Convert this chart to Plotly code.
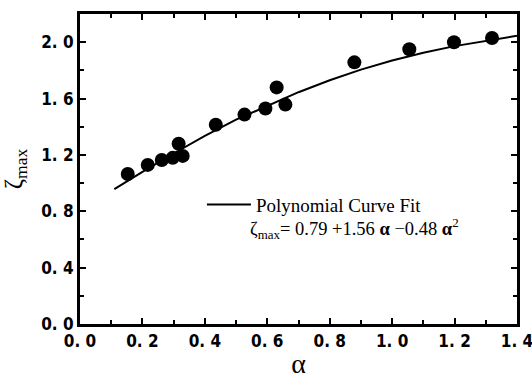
import plotly.graph_objects as go

# measured data points
alpha_pts = [0.153, 0.217, 0.262, 0.297, 0.316, 0.329, 0.435, 0.527, 0.594, 0.630, 0.658, 0.879, 1.055, 1.198, 1.320]
zeta_pts = [1.064, 1.129, 1.164, 1.179, 1.279, 1.193, 1.414, 1.486, 1.529, 1.679, 1.557, 1.857, 1.950, 2.000, 2.030]

# fit curve
alpha_fit = [0.11, 0.2, 0.3, 0.4, 0.5, 0.6, 0.7, 0.8, 0.9, 1.0, 1.1, 1.2, 1.3, 1.4]
zeta_fit = [0.957, 1.08, 1.21, 1.335, 1.45, 1.55, 1.645, 1.73, 1.805, 1.87, 1.925, 1.972, 2.01, 2.045]

x_ticks = [0.0, 0.2, 0.4, 0.6, 0.8, 1.0, 1.2, 1.4]
x_labels = ["0. 0", "0. 2", "0. 4", "0. 6", "0. 8", "1. 0", "1. 2", "1. 4"]
y_ticks = [0.0, 0.4, 0.8, 1.2, 1.6, 2.0]
y_labels = ["0. 0", "0. 4", "0. 8", "1. 2", "1. 6", "2. 0"]

tick_font = dict(family="Liberation Sans Narrow, DejaVu Sans Condensed", size=17, color="black", weight="bold")
serif = "Liberation Serif, Times New Roman, serif"

fig = go.Figure()
fig.add_trace(go.Scatter(x=alpha_fit, y=zeta_fit, mode="lines",
                         line=dict(color="black", width=2),
                         name="Polynomial Curve Fit", showlegend=True))
fig.add_trace(go.Scatter(x=alpha_pts, y=zeta_pts, mode="markers",
                         marker=dict(color="black", size=14),
                         showlegend=False))

axis_common = dict(showline=True, linecolor="black", linewidth=3, mirror="allticks",
                   ticks="inside", ticklen=6, tickwidth=2, tickcolor="black",
                   showgrid=False, zeroline=False, tickfont=tick_font,
                   ticklabeloverflow="allow", automargin=False)

fig.update_xaxes(range=[0, 1.4], tickvals=x_ticks, ticktext=x_labels,
                 minor=dict(ticks="inside", ticklen=4, tickwidth=2, dtick=0.1, tick0=0, tickcolor="black"),
                 title=dict(text="α", font=dict(family=serif, size=28, color="black"), standoff=8),
                 **axis_common)
fig.update_yaxes(range=[0, 2.2], tickvals=y_ticks, ticktext=y_labels,
                 minor=dict(ticks="inside", ticklen=4, tickwidth=2, dtick=0.2, tick0=0, tickcolor="black"),
                 title=dict(text="ζ<sub>max</sub>", font=dict(family=serif, size=25, color="black"), standoff=22),
                 **axis_common)

fig.add_annotation(xref="paper", yref="paper", x=0.385, y=0.309, xanchor="left", yanchor="middle",
                   text="ζ<sub>max</sub>= 0.79 +1.56 <b>α</b> −0.48 <b>α</b><sup>2</sup>",
                   showarrow=False, font=dict(family=serif, size=18.5, color="black"))

fig.update_layout(
    width=532, height=379,
    margin=dict(l=80, r=15, t=14, b=55),
    plot_bgcolor="white", paper_bgcolor="white",
    legend=dict(x=0.279, y=0.385, xanchor="left", yanchor="middle", itemwidth=44,
                bgcolor="rgba(0,0,0,0)", font=dict(family=serif, size=19, color="black")),
)

fig.write_html("out.html", config={"displayModeBar": False},
               post_script="document.body.style.margin='0';")
